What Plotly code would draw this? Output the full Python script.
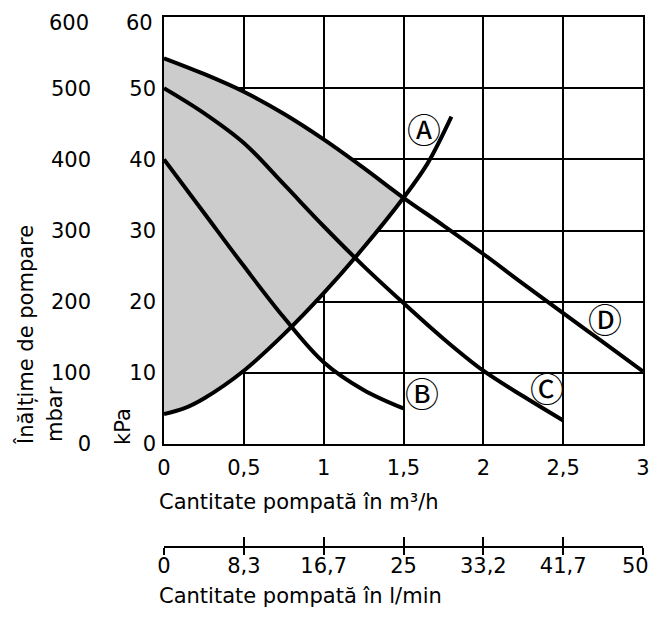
import plotly.graph_objects as go

# Data (x in m3/h, y in kPa)
x_D = [0, 0.25, 0.5, 0.75, 1.0, 1.25, 1.5, 1.75, 2.0, 2.25, 2.5, 2.75, 3.0]
y_D = [54.2, 52.0, 49.5, 46.4, 42.8, 38.8, 34.6, 30.7, 26.7, 22.5, 18.4, 14.3, 10.2]

x_C = [0, 0.25, 0.5, 0.75, 1.0, 1.25, 1.5, 1.75, 2.0, 2.25, 2.5]
y_C = [50.0, 46.5, 42.3, 36.5, 30.6, 25.0, 19.8, 14.8, 10.3, 6.7, 3.3]

x_B = [0, 0.25, 0.5, 0.75, 1.0, 1.25, 1.5]
y_B = [40.0, 32.5, 25.0, 17.8, 11.5, 7.6, 5.0]

x_A = [0, 0.125, 0.25, 0.5, 0.75, 1.0, 1.25, 1.5, 1.65, 1.8]
y_A = [4.2, 5.0, 6.4, 10.3, 15.4, 21.2, 27.6, 34.6, 39.4, 46.0]

x_ticks = [0, 0.5, 1, 1.5, 2, 2.5, 3]
x_ticktext = ["0", "0,5", "1", "1,5", "2", "2,5", "3"]
lmin_ticktext = ["0", "8,3", "16,7", "25", "33,2", "41,7", "50"]
kpa_ticks = [0, 10, 20, 30, 40, 50, 60]
mbar_ticks = [0, 100, 200, 300, 400, 500, 600]

labels = ["Ⓐ", "Ⓑ", "Ⓒ", "Ⓓ"]
label_x = [1.63, 1.615, 2.40, 2.763]
label_y = [44.0, 6.9, 7.6, 17.3]

nA_fill = 8  # A points up to x = 1.5
nD_fill = 7  # D points up to x = 1.5

# page body has an 8px margin; visible figure area is page x 8..651, y 8..609
OFF = 8
W, H = 643, 601
TOP = 17 - OFF
FONT = "DejaVu Sans, Liberation Sans, Arial, sans-serif"
FS = 21


def px(p):  # page pixel x -> paper fraction
    return (p - OFF) / W


def py(p):  # page pixel y -> paper fraction
    return (H - (p - OFF)) / (H - TOP)


fig = go.Figure()

# shaded working region between A and D
fig.add_trace(go.Scatter(x=x_A[:nA_fill], y=y_A[:nA_fill], mode="lines",
                         line=dict(width=0, shape="spline"), hoverinfo="skip",
                         showlegend=False))
fig.add_trace(go.Scatter(x=x_D[:nD_fill], y=y_D[:nD_fill], mode="lines",
                         line=dict(width=0, shape="spline"), fill="tonexty",
                         fillcolor="#cccccc", hoverinfo="skip", showlegend=False))

for xs, ys in [(x_A, y_A), (x_B, y_B), (x_C, y_C), (x_D, y_D)]:
    fig.add_trace(go.Scatter(x=xs, y=ys, mode="lines",
                             line=dict(color="black", width=4, shape="spline"),
                             showlegend=False))

# dummy traces for the extra axes
fig.add_trace(go.Scatter(x=[0], y=[0], yaxis="y2", mode="markers",
                         marker=dict(opacity=0), showlegend=False, hoverinfo="skip"))
for ax in ["x2", "x3", "x4"]:
    fig.add_trace(go.Scatter(x=[0], y=[0], xaxis=ax, mode="markers",
                             marker=dict(opacity=0), showlegend=False, hoverinfo="skip"))

x0, x1 = px(164), px(643)
ybot = py(444)
pos2 = py(547)

common_free_x = dict(overlaying="x", anchor="free", side="bottom", position=pos2,
                     domain=[x0, x1], range=[0, 3], showgrid=False,
                     zeroline=False, automargin=False, tickwidth=1.5, tickcolor="black",
                     ticklabeloverflow="allow")

fig.update_layout(
    width=W, height=H,
    margin=dict(l=0, r=0, t=TOP, b=0, autoexpand=False),
    paper_bgcolor="white", plot_bgcolor="white",
    font=dict(family=FONT, size=FS, color="black"),
    showlegend=False,
    xaxis=dict(domain=[x0, x1], range=[0, 3], tickvals=x_ticks, ticktext=x_ticktext,
               showgrid=True, gridcolor="black", gridwidth=1.5, automargin=False,
               showline=True, linecolor="black", linewidth=1.5, mirror=True,
               ticks="", zeroline=False, ticklabelstandoff=4,
               ticklabeloverflow="allow"),
    # top label (60 / 600) is drawn as an annotation, nudged down like the original
    yaxis=dict(domain=[ybot, 1], range=[0, 60], tickvals=kpa_ticks[:-1], automargin=False,
               showgrid=True, gridcolor="black", gridwidth=1.5,
               showline=True, linecolor="black", linewidth=1.5, mirror=True,
               ticks="", zeroline=False, ticklabelstandoff=2,
               ticklabeloverflow="allow"),
    yaxis2=dict(overlaying="y", anchor="free", side="left", position=px(91),
                range=[0, 600], tickvals=mbar_ticks[:-1], showgrid=False, automargin=False,
                showline=False, ticks="", zeroline=False, ticklabeloverflow="allow"),
    # last l/min label drawn as an annotation so it stays inside the page
    xaxis2=dict(**common_free_x, tickvals=x_ticks[:-1], ticktext=lmin_ticktext[:-1],
                showline=True, linecolor="black", linewidth=1.5, ticks=""),
    xaxis3=dict(**common_free_x, tickvals=x_ticks, showticklabels=False, showline=False,
                ticks="inside", ticklen=10),
    xaxis4=dict(**common_free_x, tickvals=x_ticks, showticklabels=False, showline=False,
                ticks="outside", ticklen=7),
)

annotations = [
    dict(text=str(kpa_ticks[-1]), xref="paper", yref="y", x=px(155), y=kpa_ticks[-1],
         xanchor="right", yanchor="middle", yshift=-6, showarrow=False),
    dict(text=str(mbar_ticks[-1]), xref="paper", yref="y2", x=px(91), y=mbar_ticks[-1],
         xanchor="right", yanchor="middle", yshift=-6, showarrow=False),
    dict(text=lmin_ticktext[-1], xref="x", yref="paper", x=x_ticks[-1], y=py(566),
         xanchor="right", yanchor="middle", xshift=8, showarrow=False),
    dict(text="Cantitate pompată în m³/h", xref="paper", yref="paper",
         x=px(157), y=py(502), xanchor="left", yanchor="middle", showarrow=False),
    dict(text="Cantitate pompată în l/min", xref="paper", yref="paper",
         x=px(157), y=py(596), xanchor="left", yanchor="middle", showarrow=False),
    dict(text="Înălțime de pompare", xref="paper", yref="paper",
         x=px(25), y=py(335), xanchor="center", yanchor="middle",
         textangle=-90, showarrow=False),
    dict(text="mbar", xref="paper", yref="paper",
         x=px(55), y=py(414), xanchor="center", yanchor="middle",
         textangle=-90, showarrow=False),
    dict(text="kPa", xref="paper", yref="paper",
         x=px(123), y=py(427), xanchor="center", yanchor="middle",
         textangle=-90, showarrow=False),
]
for t, lx, ly in zip(labels, label_x, label_y):
    annotations.append(dict(text=t, x=lx, y=ly, xref="x", yref="y", showarrow=False,
                            font=dict(family="DejaVu Sans, Noto Sans CJK JP", size=34)))
fig.update_layout(annotations=annotations)

fig.write_html("out.html")
